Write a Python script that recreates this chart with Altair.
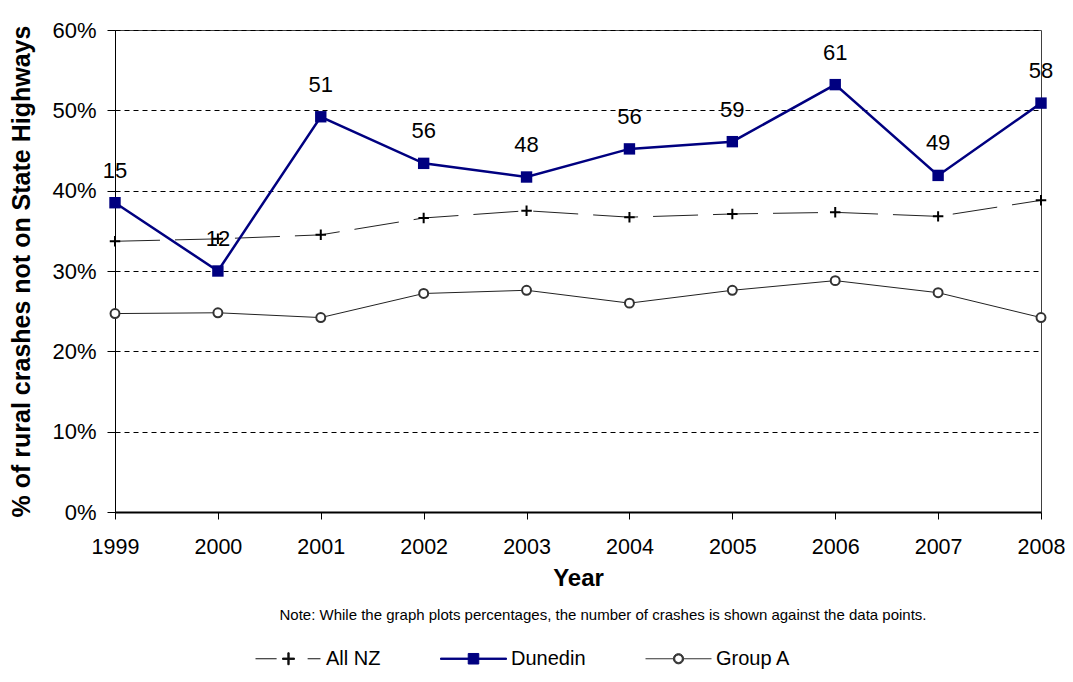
import altair as alt
import pandas as pd

years = ["1999", "2000", "2001", "2002", "2003", "2004", "2005", "2006", "2007", "2008"]
all_nz = [33.7, 34.0, 34.5, 36.6, 37.5, 36.7, 37.1, 37.3, 36.8, 38.8]
dunedin = [38.5, 30.0, 49.2, 43.4, 41.7, 45.2, 46.1, 53.2, 41.9, 50.9]
group_a = [24.7, 24.8, 24.2, 27.2, 27.6, 26.0, 27.6, 28.8, 27.3, 24.2]
dunedin_counts = [15, 12, 51, 56, 48, 56, 59, 61, 49, 58]
series_names = ["All NZ", "Dunedin", "Group A"]
y_ticks = [0, 10, 20, 30, 40, 50, 60]
y_title = "% of rural crashes not on State Highways"
x_title = "Year"
note = "Note:  While the graph plots percentages, the number of crashes is shown against the data points."

rows = []
for name, vals in zip(series_names, [all_nz, dunedin, group_a]):
    for i, (yr, v) in enumerate(zip(years, vals)):
        rows.append({"year": yr, "series": name, "value": v,
                     "count": dunedin_counts[i] if name == "Dunedin" else None})
df = pd.DataFrame(rows)

FONT = "Liberation Sans"
NAVY = "#000080"

x_enc = alt.X("year:O", scale=alt.Scale(type="point", padding=0),
              axis=alt.Axis(title=x_title, labelAngle=0, labelFontSize=21.5, labelFont=FONT,
                            labelColor="black", labelPadding=17, tickSize=7, tickColor="black",
                            domainColor="black", domainWidth=2, grid=False,
                            titleFont=FONT, titleFontSize=24, titleFontWeight="bold",
                            titleColor="black", titleY=66, titleBaseline="middle"))
y_enc = alt.Y("value:Q", scale=alt.Scale(domain=[0, 60], nice=False, zero=True),
              axis=alt.Axis(values=y_ticks, labelExpr="datum.value + '%'", title=y_title,
                            labelFontSize=22, labelFont=FONT, labelColor="black", labelPadding=11,
                            tickSize=8, tickColor="black", domainColor="black", domainWidth=1,
                            grid=True, gridColor="black", gridDash=[5, 4], gridWidth=1,
                            titleFont=FONT, titleFontSize=25, titleFontWeight="bold",
                            titleColor="black", titleAngle=270, titleX=-94, titleY=241,
                            titleAlign="center", titleBaseline="middle"))

base = alt.Chart(df).encode(x=x_enc, y=y_enc)

allnz = base.transform_filter(alt.datum.series == "All NZ")
allnz_line = allnz.mark_line(color="#222222", strokeWidth=1, strokeDash=[45, 15])
allnz_pts = allnz.mark_point(shape="M-1,0H1M0,-1V1", size=110, filled=False,
                             color="black", strokeWidth=2, opacity=1)

dun = base.transform_filter(alt.datum.series == "Dunedin")
dun_line = dun.mark_line(color=NAVY, strokeWidth=2.5)
dun_pts = dun.mark_point(shape="square", size=130, filled=True, color=NAVY, opacity=1)
dun_text = dun.mark_text(dy=-32, fontSize=22, font=FONT, color="black",
                         baseline="middle", align="center").encode(text="count:Q")

ga = base.transform_filter(alt.datum.series == "Group A")
ga_line = ga.mark_line(color="#222222", strokeWidth=1)
ga_pts = ga.mark_point(shape="circle", size=80, filled=True, fill="white",
                       stroke="#333333", strokeWidth=2, opacity=1)

legend_colors = ["#111111", NAVY, "#333333"]
legend_paths = [
    "M-1,0H-0.36M0.58,0H0.97M-0.18,-0.02H0.18V0.02H-0.18ZM-0.02,-0.18H0.02V0.18H-0.02Z",
    "M-1,-0.02H1V0.02H-1ZM-0.16,-0.16H0.16V0.16H-0.16Z",
    "M-1,0H-0.155M0.155,0H1M-0.155,0A0.155,0.155 0 1,1 0.155,0A0.155,0.155 0 1,1 -0.155,0Z"
    "M-0.115,0A0.115,0.115 0 1,0 0.115,0A0.115,0.115 0 1,0 -0.115,0Z",
]
leg = alt.Legend(title=None, orient="none", legendX=140, legendY=595, direction="horizontal",
                 labelFont=FONT, labelFontSize=20, labelColor="black", labelOffset=4,
                 symbolSize=4356, symbolStrokeWidth=1, symbolOpacity=1,
                 columnPadding=57, padding=0, labelLimit=300)
legend_df = pd.DataFrame({"series": series_names})
legend_layer = alt.Chart(legend_df).transform_filter("false").mark_point(filled=True, opacity=1).encode(
    color=alt.Color("series:N", scale=alt.Scale(domain=series_names, range=legend_colors), legend=leg),
    stroke=alt.Stroke("series:N", scale=alt.Scale(domain=series_names, range=legend_colors), legend=leg),
    shape=alt.Shape("series:N", scale=alt.Scale(domain=series_names, range=legend_paths), legend=leg),
)

note_layer = alt.Chart(pd.DataFrame({"note": [note]})).mark_text(
    fontSize=15, font=FONT, color="black", align="center", baseline="middle"
).encode(x=alt.value(488), y=alt.value(585), text="note:N")

chart = alt.layer(allnz_line, allnz_pts, dun_line, dun_pts, dun_text, ga_line, ga_pts,
                  legend_layer, note_layer).properties(
    width=926, height=482,
    padding={"left": 107, "top": 22, "right": 24, "bottom": 162},
    autosize=alt.AutoSizeParams(type="none"),
    background="white",
).configure_view(stroke="#404040", strokeWidth=1)

chart.save("out.html", embed_options={"renderer": "svg", "actions": False})
